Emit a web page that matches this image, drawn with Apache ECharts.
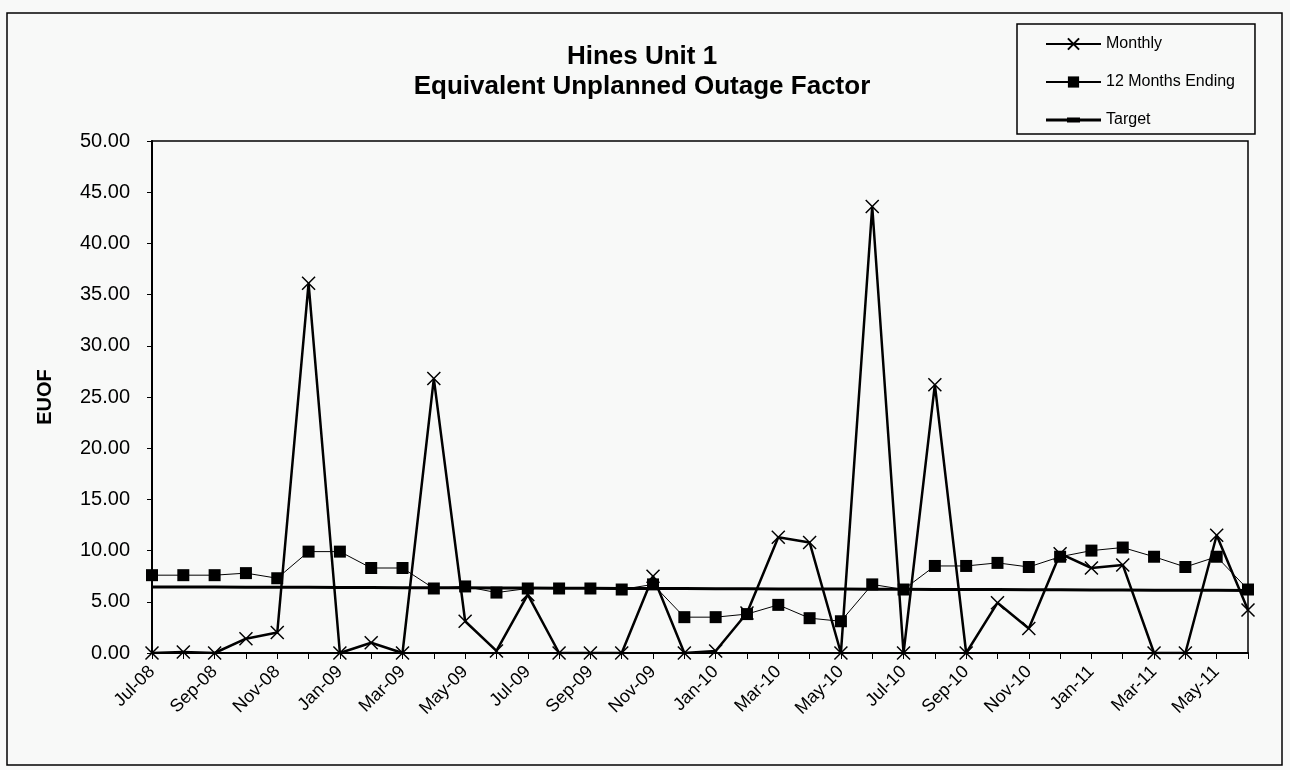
<!DOCTYPE html>
<html>
<head>
<meta charset="utf-8">
<title>Hines Unit 1 EUOF</title>
<script src="https://cdn.jsdelivr.net/npm/echarts@6/dist/echarts.min.js"></script>
<style>
    html, body { margin: 0; padding: 0; background: #f8f9f8; }
    #chart { width: 1290px; height: 770px; }
</style>
</head>
<body>
<div id="chart"></div>
<script>
// months Jul-08 .. Jun-11
var months = ['Jul-08','Aug-08','Sep-08','Oct-08','Nov-08','Dec-08',
    'Jan-09','Feb-09','Mar-09','Apr-09','May-09','Jun-09',
    'Jul-09','Aug-09','Sep-09','Oct-09','Nov-09','Dec-09',
    'Jan-10','Feb-10','Mar-10','Apr-10','May-10','Jun-10',
    'Jul-10','Aug-10','Sep-10','Oct-10','Nov-10','Dec-10',
    'Jan-11','Feb-11','Mar-11','Apr-11','May-11','Jun-11'];

var monthly = [0, 0.1, 0, 1.4, 2.0, 36.1,
    0, 1.0, 0, 26.8, 3.1, 0.2,
    5.7, 0, 0, 0, 7.5, 0,
    0.2, 3.9, 11.3, 10.8, 0, 43.6,
    0, 26.2, 0, 4.9, 2.4, 9.7,
    8.3, 8.6, 0, 0, 11.5, 4.2];

var twelveMonths = [7.6, 7.6, 7.6, 7.8, 7.3, 9.9,
    9.9, 8.3, 8.3, 6.3, 6.5, 5.9,
    6.3, 6.3, 6.3, 6.2, 6.7, 3.5,
    3.5, 3.8, 4.7, 3.4, 3.1, 6.7,
    6.2, 8.5, 8.5, 8.8, 8.4, 9.4,
    10.0, 10.3, 9.4, 8.4, 9.4, 6.2];

var target = [6.45, 6.45, 6.44, 6.43, 6.42, 6.41,
    6.40, 6.39, 6.38, 6.37, 6.36, 6.35,
    6.34, 6.33, 6.32, 6.31, 6.30, 6.29,
    6.28, 6.27, 6.26, 6.25, 6.24, 6.23,
    6.22, 6.21, 6.20, 6.19, 6.18, 6.17,
    6.16, 6.15, 6.14, 6.13, 6.12, 6.11];

var yTicks = { min: 0, max: 50, interval: 5 };

var font = "'Liberation Sans', Arial, sans-serif";
var crossMark = 'path://M0,0L10,10M10,0L0,10';
// legend icon for target: thick line with a short dash in the middle
var targetIcon = 'path://M0,0L0.05,0L0,0.05Z M55,14L54.95,14L55,13.95Z M0,5.5H55V8.5H0Z M21,4.5H34V9.5H21Z';

var chart = echarts.init(document.getElementById('chart'));
var option = {
    backgroundColor: '#f8f9f8',
    animation: false,
    textStyle: { fontFamily: font, color: '#000' },
    title: {
        text: 'Hines Unit 1\nEquivalent Unplanned Outage Factor',
        left: 637,
        top: 37,
        textAlign: 'center',
        textStyle: { fontSize: 26, fontWeight: 'bold', lineHeight: 30, color: '#000', fontFamily: font }
    },
    legend: {
        orient: 'vertical',
        left: 1017,
        top: 24,
        padding: [12, 20, 6, 28],
        itemGap: 22,
        itemWidth: 55,
        itemHeight: 14,
        borderColor: '#000',
        borderWidth: 1.5,
        textStyle: { fontSize: 16, color: '#000', fontFamily: font },
        data: ['Monthly', '12 Months Ending', { name: 'Target', icon: targetIcon }]
    },
    graphic: [{
        type: 'rect',
        shape: { x: 7, y: 13, width: 1275, height: 752 },
        style: { fill: 'none', stroke: '#000', lineWidth: 1.5 },
        silent: true
    }],
    grid: {
        left: 152,
        right: 42,
        top: 141,
        bottom: 117,
        show: true,
        borderColor: '#000',
        borderWidth: 1.5
    },
    xAxis: {
        type: 'category',
        data: months,
        boundaryGap: false,
        axisLine: { lineStyle: { color: '#000', width: 2 } },
        axisTick: { show: true, interval: 0, length: 6, lineStyle: { color: '#000', width: 1 } },
        axisLabel: {
            interval: 1,
            rotate: 45,
            margin: 16,
            fontSize: 18,
            color: '#000',
            fontFamily: font
        },
        splitLine: { show: false }
    },
    yAxis: {
        type: 'value',
        min: yTicks.min,
        max: yTicks.max,
        interval: yTicks.interval,
        name: 'EUOF',
        nameLocation: 'middle',
        nameRotate: 90,
        nameGap: 97,
        nameTextStyle: { fontSize: 20, fontWeight: 'bold', color: '#000', fontFamily: font },
        axisLine: { show: true, lineStyle: { color: '#000', width: 2 } },
        axisTick: { show: true, length: 5, lineStyle: { color: '#000', width: 1 } },
        axisLabel: {
            margin: 22,
            fontSize: 20,
            color: '#000',
            fontFamily: font,
            formatter: function (v) { return v.toFixed(2); }
        },
        splitLine: { show: false }
    },
    series: [{
        name: 'Target',
        type: 'line',
        data: target,
        symbol: 'none',
        lineStyle: { color: '#000', width: 3 },
        itemStyle: { color: '#000' },
        z: 1
    }, {
        name: '12 Months Ending',
        type: 'line',
        data: twelveMonths,
        symbol: 'rect',
        symbolSize: 12,
        lineStyle: { color: '#000', width: 1 },
        itemStyle: { color: '#000', borderColor: '#000', borderWidth: 0 },
        z: 2
    }, {
        name: 'Monthly',
        type: 'line',
        data: monthly,
        symbol: crossMark,
        symbolSize: 13,
        lineStyle: { color: '#000', width: 2.5 },
        itemStyle: { color: '#000', borderColor: '#000', borderWidth: 1.5 },
        z: 3
    }]
};
chart.setOption(option);
</script>
</body>
</html>
